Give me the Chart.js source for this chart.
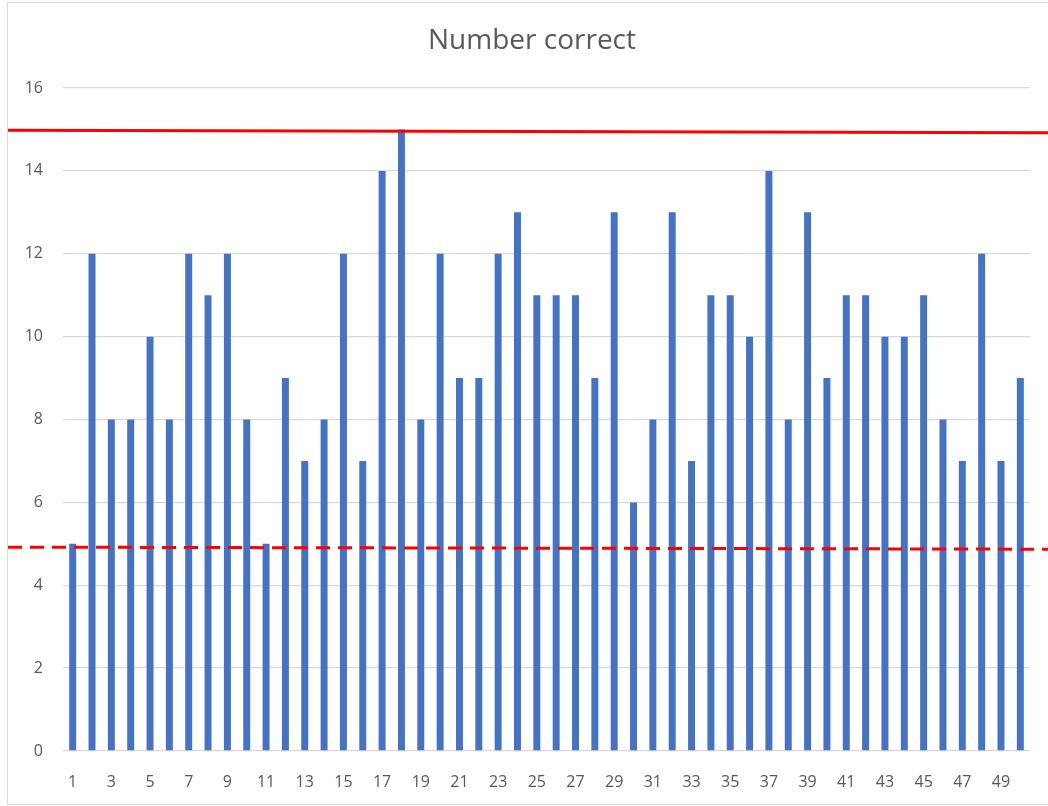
<!DOCTYPE html>
<html lang="en">
<head>
    <meta charset="UTF-8" />
    <title>Number correct</title>
    <script src="https://cdn.jsdelivr.net/npm/chart.js"></script>
    <style>
        html, body { margin: 0; padding: 0; background: #fff; }
        #wrap { position: relative; width: 1048px; height: 806px; }
    </style>
</head>
<body>
<div id="wrap">
    <canvas id="scoreChart" width="1048" height="806"></canvas>
</div>
<script>
    // values
    const questions = [];
    for (let i = 1; i <= 50; i++) questions.push(String(i));
    const numberCorrect = [5, 12, 8, 8, 10, 8, 12, 11, 12, 8,
                           5, 9, 7, 8, 12, 7, 14, 15, 8, 12,
                           9, 9, 12, 13, 11, 11, 11, 9, 13, 6,
                           8, 13, 7, 11, 11, 10, 14, 8, 13, 9,
                           11, 11, 10, 10, 11, 8, 7, 12, 7, 9];
    const yTicks = [0, 2, 4, 6, 8, 10, 12, 14, 16];
    const chartTitle = 'Number correct';

    // the two hand drawn red lines (value at left and right edge)
    const limitStart = [14.98, 4.92];
    const limitEnd = [14.92, 4.87];

    const textGrey = '#595959';

    // frame, title (centred on the frame, not the plot) and the red lines
    const frameAndLines = {
        id: 'frameAndLines',
        beforeDraw(chart) {
            const ctx = chart.ctx;
            ctx.save();
            ctx.strokeStyle = '#d9d9d9';
            ctx.lineWidth = 1;
            ctx.strokeRect(7.5, 2.5, 1100, 802);
            ctx.fillStyle = textGrey;
            ctx.font = '28px "Open Sans"';
            ctx.textAlign = 'center';
            ctx.textBaseline = 'middle';
            ctx.fillText(chartTitle, 532, 41);
            ctx.restore();
        },
        afterDatasetsDraw(chart) {
            const ctx = chart.ctx;
            const y = chart.scales.y;
            ctx.save();
            ctx.strokeStyle = '#ff0000';
            ctx.lineWidth = 3;
            for (let i = 0; i < limitStart.length; i++) {
                ctx.setLineDash(i === 1 ? [14, 8] : []);
                ctx.beginPath();
                ctx.moveTo(8, y.getPixelForValue(limitStart[i]));
                ctx.lineTo(chart.width, y.getPixelForValue(limitEnd[i]));
                ctx.stroke();
            }
            ctx.restore();
        }
    };

    new Chart(document.getElementById('scoreChart'), {
        type: 'bar',
        data: {
            labels: questions,
            datasets: [{
                label: chartTitle,
                data: numberCorrect,
                backgroundColor: '#4472c4',
                barPercentage: 0.36,
                categoryPercentage: 1
            }]
        },
        options: {
            responsive: false,
            animation: false,
            layout: { padding: { left: 0, right: 18, top: 88, bottom: 0 } },
            plugins: {
                legend: { display: false },
                tooltip: { enabled: false },
                title: { display: false }
            },
            scales: {
                x: {
                    grid: { display: false },
                    border: { display: false },
                    afterFit(scale) { scale.height = 55; },
                    ticks: {
                        color: textGrey,
                        font: { family: 'Open Sans', size: 16 },
                        padding: 14,
                        autoSkip: false,
                        maxRotation: 0,
                        callback(value, index) {
                            return index % 2 === 0 ? questions[index] : '';
                        }
                    }
                },
                y: {
                    min: 0,
                    max: 16,
                    afterBuildTicks(scale) {
                        scale.ticks = yTicks.map(v => ({ value: v }));
                    },
                    afterFit(scale) { scale.width = 63; },
                    grid: { color: '#d9d9d9', lineWidth: 1.3, drawTicks: false },
                    border: { display: false },
                    ticks: {
                        color: textGrey,
                        font: { family: 'Open Sans', size: 16 },
                        padding: 20
                    }
                }
            }
        },
        plugins: [frameAndLines]
    });
</script>
</body>
</html>
